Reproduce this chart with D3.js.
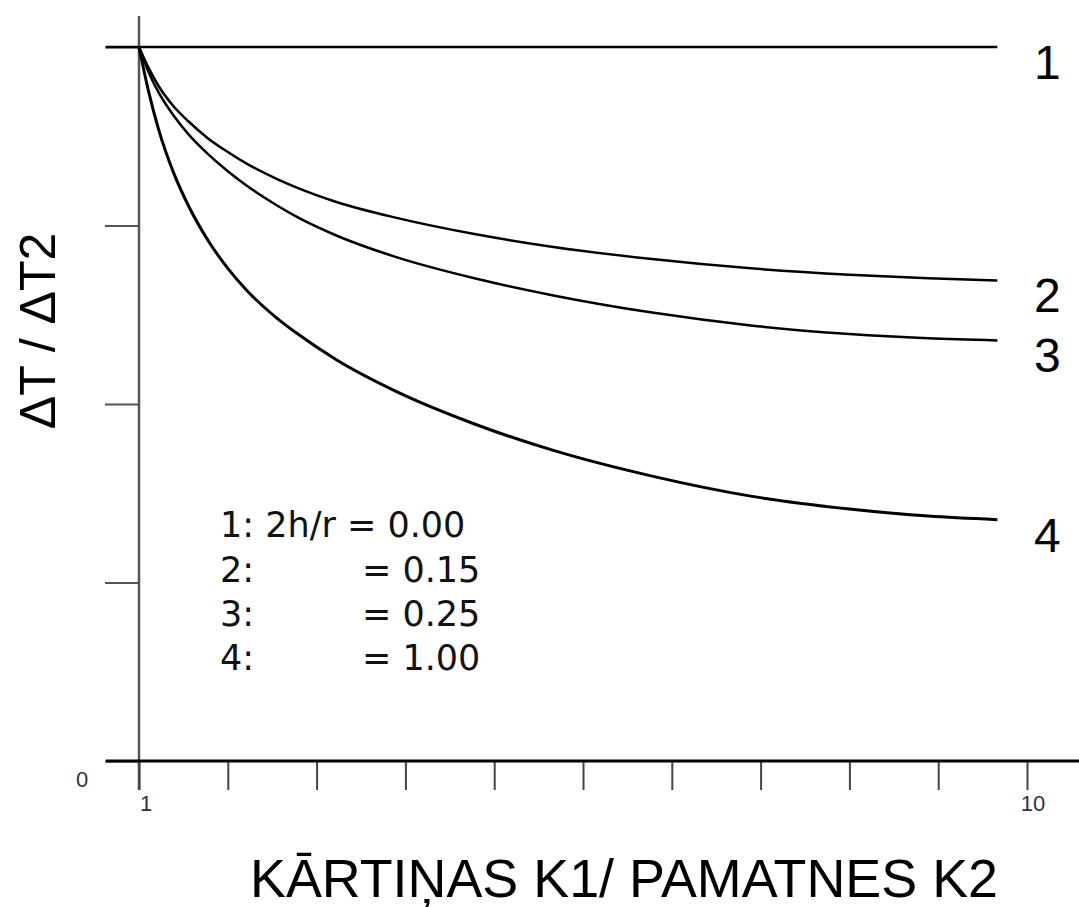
<!DOCTYPE html>
<html>
<head>
<meta charset="utf-8">
<script src="https://cdn.jsdelivr.net/npm/d3@7"></script>
<style>
  body { margin: 0; background: #fff; }
  svg { display: block; }
</style>
</head>
<body>
<div id="graf"></div>
<script>
// datos
const xVals = [1, 1.1, 1.2, 1.35, 1.5, 1.7, 1.9, 2.1, 2.4, 2.6, 3, 3.6, 4.4, 5.2, 6.2, 7.2, 8.2, 9, 9.7]
const serie1 = [1, 1, 1, 1, 1, 1, 1, 1, 1, 1, 1, 1, 1, 1, 1, 1, 1, 1, 1]
const serie2 = [1, 0.970, 0.945, 0.917, 0.896, 0.872, 0.853, 0.836, 0.815, 0.803, 0.783, 0.761, 0.738, 0.720, 0.703, 0.690, 0.681, 0.676, 0.673]
const serie3 = [1, 0.964, 0.936, 0.904, 0.878, 0.850, 0.826, 0.805, 0.778, 0.762, 0.736, 0.706, 0.676, 0.652, 0.628, 0.610, 0.598, 0.592, 0.589]
const serie4 = [1, 0.936, 0.884, 0.824, 0.778, 0.729, 0.690, 0.658, 0.620, 0.599, 0.562, 0.518, 0.472, 0.435, 0.399, 0.371, 0.353, 0.343, 0.338]
const etiquetas = ['1', '2', '3', '4']
const xTicks = [1, 1.9, 2.8, 3.7, 4.6, 5.5, 6.4, 7.3, 8.2, 9.1, 10]
const yTicks = [0, 0.25, 0.5, 0.75, 1]
const leyendaNum = ['1:', '2:', '3:', '4:']
const leyendaVal = ['= 0.00', '= 0.15', '= 0.25', '= 1.00']

// I. Configuracion
const ancho_total = 1079
const alto_total = 907
const margins = { top: 47, left: 139, right: 52, bottom: 146 }
const ancho = ancho_total - margins.left - margins.right
const alto = alto_total - margins.top - margins.bottom

const svg = d3.select('#graf').append('svg')
  .attr('width', ancho_total)
  .attr('height', alto_total)

const g = svg.append('g')
  .attr('transform', `translate(${margins.left}, ${margins.top})`)

const x = d3.scaleLinear().domain([1, 10]).range([0, ancho])
const y = d3.scaleLinear().domain([0, 1]).range([alto, 0])

// ejes
// eje Y (linea vertical gris)
g.append('line')
  .attr('x1', 0).attr('x2', 0)
  .attr('y1', -31).attr('y2', alto + 29)
  .attr('stroke', '#555').attr('stroke-width', 2.5)

const yAxis = g.append('g')
  .call(d3.axisLeft(y).tickValues(yTicks).tickSize(34).tickFormat(''))
yAxis.select('.domain').remove()
yAxis.selectAll('.tick line').attr('stroke', '#555').attr('stroke-width', 2)

const xAxis = g.append('g')
  .attr('transform', `translate(0, ${alto})`)
  .call(d3.axisBottom(x).tickValues(xTicks).tickSize(29).tickFormat(''))
xAxis.select('.domain').remove()
xAxis.selectAll('.tick line').attr('stroke', '#444').attr('stroke-width', 2)

// linea del eje X
g.append('line')
  .attr('x1', -33).attr('x2', ancho_total - margins.left)
  .attr('y1', alto).attr('y2', alto)
  .attr('stroke', '#000').attr('stroke-width', 3)

// etiquetas de los ejes
g.append('text')
  .attr('x', x(1) + 7).attr('y', alto + 50)
  .attr('text-anchor', 'middle')
  .style('font', '22px "Liberation Sans", Arial, sans-serif')
  .attr('fill', '#333')
  .text('1')
g.append('text')
  .attr('x', x(10) + 6).attr('y', alto + 50)
  .attr('text-anchor', 'middle')
  .style('font', '22px "Liberation Sans", Arial, sans-serif')
  .attr('fill', '#333')
  .text('10')
g.append('text')
  .attr('x', -57).attr('y', alto + 26)
  .attr('text-anchor', 'middle')
  .style('font', '22px "Liberation Sans", Arial, sans-serif')
  .attr('fill', '#333')
  .text('0')

// II. Curvas
const series = [serie1, serie2, serie3, serie4]
const linea = d3.line()
  .x((d, i) => x(xVals[i]))
  .y(d => y(d))
  .curve(d3.curveMonotoneX)

// linea 1 empieza desde la marca del eje
g.append('line')
  .attr('x1', -33).attr('x2', 0)
  .attr('y1', y(1)).attr('y2', y(1))
  .attr('stroke', '#000').attr('stroke-width', 2.5)

g.selectAll('.curva')
  .data(series)
  .enter().append('path')
  .attr('class', 'curva')
  .attr('fill', 'none')
  .attr('stroke', '#000')
  .attr('stroke-width', (d, i) => i === 3 ? 3 : 2.5)
  .attr('d', linea)

g.selectAll('.etiqueta')
  .data(series)
  .enter().append('text')
  .attr('class', 'etiqueta')
  .attr('x', 1034 - margins.left)
  .attr('y', d => y(d[d.length - 1]) + 32)
  .style('font', '48px "Liberation Sans", Arial, sans-serif')
  .attr('fill', '#000')
  .text((d, i) => etiquetas[i])

// leyenda
const leyenda = g.append('g')
  .style('font', '35px "DejaVu Sans", sans-serif')
  .attr('fill', '#111')

leyenda.append('text')
  .attr('x', 220 - margins.left).attr('y', 537 - margins.top)
  .text('1: 2h/r = 0.00')

leyendaNum.slice(1).forEach((t, i) => {
  const yy = 582 + i * 44 - margins.top
  leyenda.append('text')
    .attr('x', 220 - margins.left).attr('y', yy)
    .text(t)
  leyenda.append('text')
    .attr('x', 362 - margins.left).attr('y', yy)
    .text(leyendaVal[i + 1])
})

// titulos
svg.append('text')
  .attr('x', 250).attr('y', 897)
  .attr('textLength', 748)
  .attr('lengthAdjust', 'spacingAndGlyphs')
  .style('font', '54px "Liberation Sans Narrow", "Liberation Sans", Arial, sans-serif')
  .attr('fill', '#000')
  .text('KĀRTIŅAS K1/ PAMATNES K2')

svg.append('text')
  .attr('transform', 'translate(55, 331) rotate(-90)')
  .attr('text-anchor', 'middle')
  .style('font', '50px "Liberation Sans", Arial, sans-serif')
  .attr('fill', '#000')
  .text('ΔT / ΔT2')
</script>
</body>
</html>
